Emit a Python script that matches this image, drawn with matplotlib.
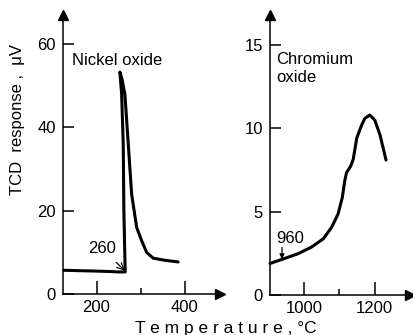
import matplotlib
matplotlib.use("Agg")
import matplotlib.pyplot as plt

plt.rcParams['font.family'] = ['Liberation Sans', 'DejaVu Sans']

# Nickel oxide TCD trace (temperature in °C, response in µV)
ni_temp = [126, 160, 200, 230, 250, 265, 262, 260.6, 257, 253,
           258, 264.4, 272, 279.6, 291, 302, 313.6, 328.5, 355, 385]
ni_resp = [5.7, 5.6, 5.5, 5.4, 5.3, 5.3, 20, 36, 47.9, 53.3,
           51.5, 47.9, 36, 24, 16, 12.9, 10, 8.6, 8.1, 7.7]

# Chromium oxide TCD trace
cr_temp = [903, 936, 983, 1021, 1054, 1078, 1096, 1108, 1115, 1120,
           1132, 1139, 1149, 1163, 1172, 1186, 1200, 1215, 1232]
cr_resp = [1.89, 2.13, 2.48, 2.88, 3.37, 4.07, 4.86, 5.85, 6.85, 7.34,
           7.74, 8.14, 9.42, 10.2, 10.6, 10.8, 10.5, 9.6, 8.1]

ni_yticks = [0, 20, 40, 60]
ni_xticks = [200, 400]
ni_xminor = [300]
cr_yticks = [0, 5, 10, 15]
cr_xticks = [1000, 1200]
cr_xminor = [1100]

W, H = 413, 335
fig = plt.figure(figsize=(W / 100, H / 100), dpi=100)

def px_axes(left, top, right, bottom):
    return fig.add_axes([left / W, 1 - bottom / H, (right - left) / W, (bottom - top) / H])

ax1 = px_axes(63, 15, 220, 294)
ax2 = px_axes(270, 15, 410, 295)

FS = 12
for ax in (ax1, ax2):
    for s in ('top', 'right'):
        ax.spines[s].set_visible(False)
    for s in ('left', 'bottom'):
        ax.spines[s].set_linewidth(1.1)
    ax.tick_params(axis='both', which='both', direction='in', width=1.1,
                   labelsize=FS, colors='black')
    ax.tick_params(axis='y', which='major', length=8, pad=5)
    ax.tick_params(axis='x', which='major', length=9.4, pad=4)
    ax.tick_params(axis='x', which='minor', length=4)
    ax.plot([0], [1], marker='^', color='black', markersize=7,
            transform=ax.transAxes, clip_on=False)
    ax.plot([1], [0], marker='>', color='black', markersize=7,
            transform=ax.transAxes, clip_on=False)
    ax.set_facecolor('white')

ax1.set_xlim(124, 480)
ax1.set_ylim(0, 67)
ax1.set_yticks(ni_yticks)
ax1.set_xticks(ni_xticks)
ax1.set_xticks(ni_xminor, minor=True)
ax1.plot(ni_temp, ni_resp, color='black', lw=2.2, solid_joinstyle='round',
         solid_capstyle='round', clip_on=False)
ax1.text(144, 56, 'Nickel oxide', fontsize=FS, va='center', ha='left')
ax1.annotate('260', xy=(264, 5.6), xytext=(212, 11), fontsize=FS,
             ha='center', va='center',
             arrowprops=dict(arrowstyle='->', color='black', lw=0.9,
                             shrinkA=4, shrinkB=0))

ax2.set_xlim(903, 1300)
ax2.set_ylim(0, 16.8)
ax2.set_yticks(cr_yticks)
ax2.set_xticks(cr_xticks)
ax2.set_xticks(cr_xminor, minor=True)
ax2.plot(cr_temp, cr_resp, color='black', lw=2.2, solid_joinstyle='round',
         solid_capstyle='round', clip_on=False)
ax2.text(920, 13.6, 'Chromium\noxide', fontsize=FS, va='center', ha='left',
         linespacing=1.3)
ax2.text(960, 3.4, '960', fontsize=FS, ha='center', va='center')
ax2.annotate('', xy=(937, 2.15), xytext=(937, 2.85),
             arrowprops=dict(arrowstyle='-|>', color='black', lw=0.9,
                             mutation_scale=7, shrinkA=0, shrinkB=0))

fig.text(18 / W, 1 - 120 / H, 'TCD  response ,  \u03bcV', rotation=90,
         fontsize=FS, ha='center', va='center')
fig.text(226 / W, 1 - 328 / H, 'T e m p e r a t u r e , \u00b0C',
         fontsize=FS + 0.5, ha='center', va='center')

fig.savefig('out.png', dpi=100, facecolor='white')
